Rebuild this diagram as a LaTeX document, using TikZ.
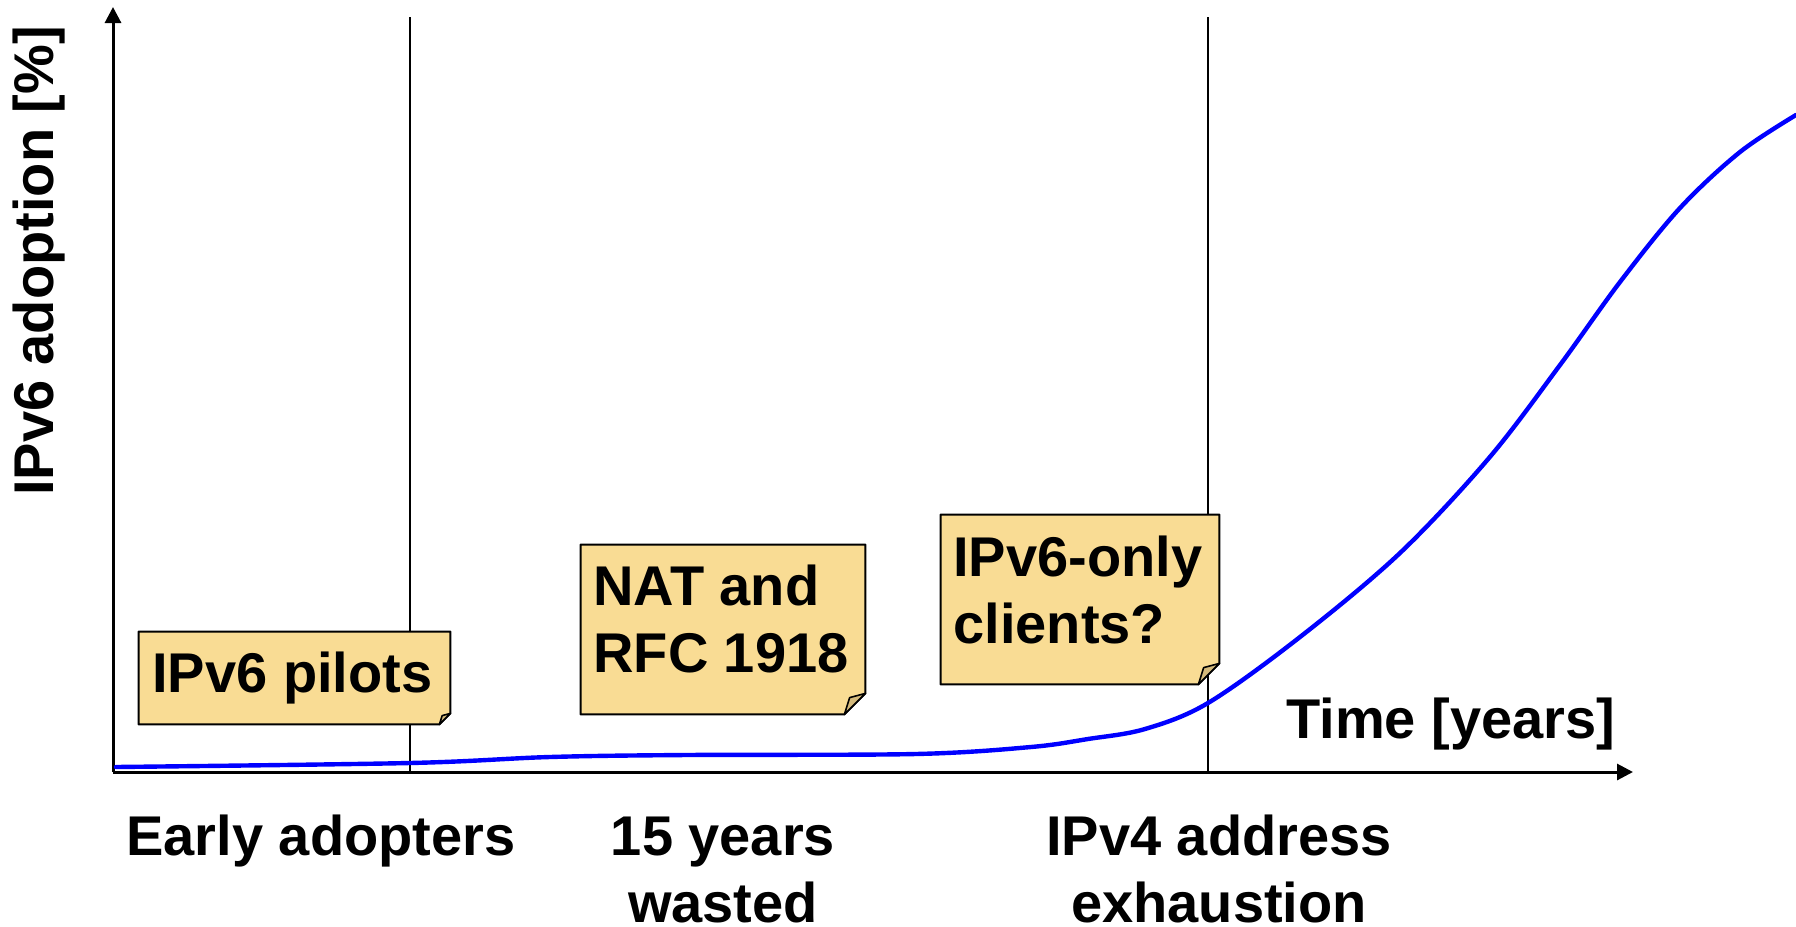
\documentclass[tikz,border=0pt]{standalone}
\usepackage{fontspec}
\setmainfont{Liberation Sans}
\usetikzlibrary{arrows.meta,calc,fit}

\definecolor{notefill}{RGB}{249,220,148}
\definecolor{noteflap}{RGB}{212,186,124}
\definecolor{curveblue}{RGB}{0,0,255}

\tikzset{
  lbl/.style={font=\bfseries\fontsize{28}{33.4}\selectfont, inner sep=0pt},
  notebody/.style={inner sep=0pt, draw=none},
  axisline/.style={line width=1.5pt, -{Triangle[length=8pt,width=8pt]}},
  phaseline/.style={line width=1pt},
  adoption/.style={line width=2.2pt, curveblue, line join=round, line cap=round},
  noteedge/.style={draw=black, line width=1pt, fill=notefill, line join=round},
  flapedge/.style={draw=black, line width=0.8pt, fill=noteflap, line join=round},
}

% sticky note with a folded lower right corner: #1 = body node, #2 = fold size
\newcommand\foldednote[2]{%
  \filldraw[noteedge] (#1.north west) -- (#1.north east)
    -- ($(#1.south east)+(0,-#2)$) -- ($(#1.south east)+(-#2,0)$)
    -- (#1.south west) -- cycle;
  \filldraw[flapedge] ($(#1.south east)+(-#2,0)$)
    -- ($(#1.south east)+(-0.75*#2,-0.8*#2)$)
    -- ($(#1.south east)+(0,-#2)$) -- cycle;
}

\begin{document}
\begin{tikzpicture}[x=0.5pt,y=-0.5pt]
\useasboundingbox (0,0) rectangle (1796,927);

% axes
\coordinate (origin) at (113,772);
\coordinate (ytip) at (113,7);
\coordinate (xtip) at (1633,772);
\draw[axisline] (origin) -- (ytip);
\draw[axisline] (origin) -- (xtip);

% phase boundaries
\coordinate (early-top) at (410,17);
\coordinate (early-bot) at (410,772);
\coordinate (exh-top) at (1208,17);
\coordinate (exh-bot) at (1208,772);
\draw[phaseline] (early-top) -- (early-bot);
\draw[phaseline] (exh-top) -- (exh-bot);

% adoption curve
\draw[adoption] plot[smooth, tension=0.55] coordinates {
  (116,767) (410,763) (550,757) (687,755) (916,754) (1031,747)
  (1088,739) (1145,729) (1208,703) (1300,637) (1400,553)
  (1489,458) (1560,365) (1620,282) (1680,208) (1740,152) (1796,115)};

% sticky notes
\node[notebody, fit={(139,632) (450,724)}] (pilots) {};
\foldednote{pilots}{11}
\node[lbl, anchor=north west] (pilots-text) at (152,652) {IPv6 pilots};

\node[notebody, fit={(581,545) (865,714)}] (nat) {};
\foldednote{nat}{21}
\node[lbl, anchor=north west, align=left] (nat-text) at (593,565) {NAT and\\RFC 1918};

\node[notebody, fit={(941,515) (1219,684)}] (only) {};
\foldednote{only}{21}
\node[lbl, anchor=north west, align=left] (only-text) at (953,536) {IPv6-only\\clients?};

% axis titles
\node[lbl, rotate=90, anchor=north] (ytitle) at (13,261) {IPv6 adoption [\%]};
\node[lbl, anchor=north west] (xtitle) at (1286,698) {Time [years]};

% phase labels
\node[lbl, anchor=north west] (early) at (126,815) {Early adopters};
\node[lbl, anchor=north, align=center] (wasted) at (723,817) {15 years\\wasted};
\node[lbl, anchor=north, align=center] (exhaust) at (1219,815) {IPv4 address\\exhaustion};
\end{tikzpicture}
\end{document}
